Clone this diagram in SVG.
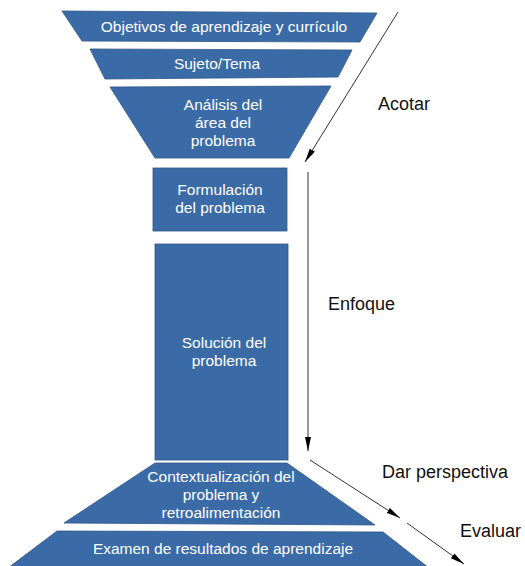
<svg xmlns="http://www.w3.org/2000/svg" width="525" height="566" viewBox="0 0 525 566">
<style>
.shape{fill:#3a6ba6;stroke:#2e5788;stroke-width:0.8}
.nt{font-family:"Liberation Sans",Arial,sans-serif;font-size:15.5px;fill:#ffffff;text-anchor:middle}
.lbl{font-family:"Liberation Sans",Arial,sans-serif;font-size:18px;fill:#111111}
.con{stroke:#333333;stroke-width:1;fill:none;marker-end:url(#ah)}
</style>
<defs>
<marker id="ah" viewBox="0 0 14 6" refX="14" refY="3" markerWidth="14" markerHeight="6" markerUnits="userSpaceOnUse" orient="auto">
<path d="M0,0 L14,3 L0,6 Z" fill="#000000"/>
</marker>
</defs>
<rect width="525" height="566" fill="#ffffff"/>
<g id="n1"><polygon class="shape" points="62,11 377,13 360,42 82,41"/><text class="nt" x="224" y="32">Objetivos de aprendizaje y currículo</text></g>
<g id="n2"><polygon class="shape" points="90,49 352,50 338,77 105,79"/><text class="nt" x="217" y="69">Sujeto/Tema</text></g>
<g id="n3"><polygon class="shape" points="110,87 331,86 289,158 155,158"/><text class="nt" x="223" y="110">Análisis del</text><text class="nt" x="223" y="128">área del</text><text class="nt" x="223" y="146">problema</text></g>
<g id="n4"><rect class="shape" x="153" y="168" width="134" height="63"/><text class="nt" x="220" y="195">Formulación</text><text class="nt" x="220" y="213">del problema</text></g>
<g id="n5"><rect class="shape" x="155" y="244" width="133" height="216"/><text class="nt" x="224" y="348">Solución del</text><text class="nt" x="224" y="366">problema</text></g>
<g id="n6"><polygon class="shape" points="155,463 287,463 375,525 64,523"/><text class="nt" x="221" y="482">Contextualización del</text><text class="nt" x="221" y="500">problema y</text><text class="nt" x="221" y="518">retroalimentación</text></g>
<g id="n7"><polygon class="shape" points="57,531 383,532 429,568 8,568"/><text class="nt" x="223" y="554">Examen de resultados de aprendizaje</text></g>
<g id="connectors">
<line class="con" x1="398" y1="12" x2="305" y2="162"/>
<line class="con" x1="308" y1="172" x2="308" y2="451"/>
<line class="con" x1="310" y1="460" x2="400" y2="518"/>
<line class="con" x1="407" y1="523" x2="464" y2="564"/>
</g>
<g id="labels">
<text class="lbl" x="378" y="110">Acotar</text>
<text class="lbl" x="328" y="310">Enfoque</text>
<text class="lbl" x="382" y="478">Dar perspectiva</text>
<text class="lbl" x="460" y="537">Evaluar</text>
</g>
</svg>
